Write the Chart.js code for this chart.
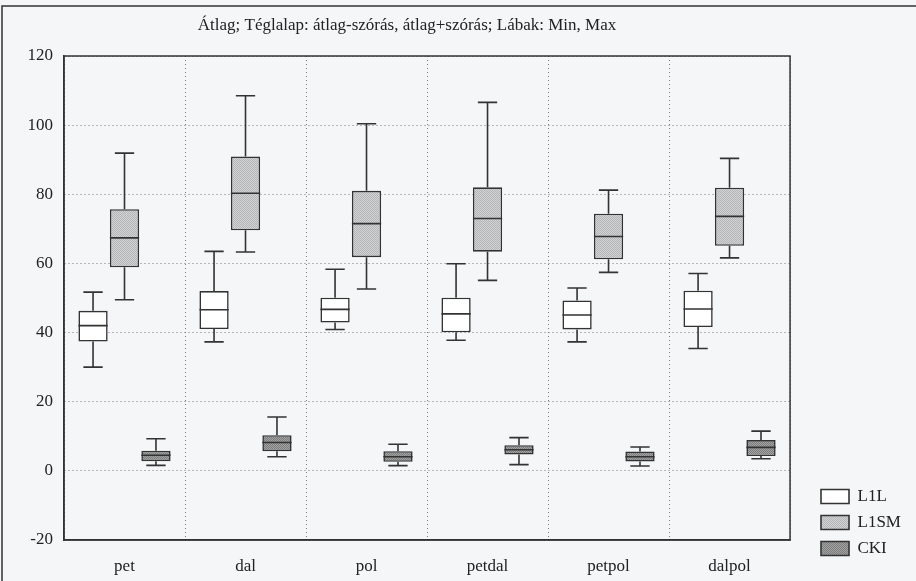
<!DOCTYPE html>
<html>
<head>
<meta charset="utf-8">
<script src="https://cdn.jsdelivr.net/npm/chart.js@4.4.0/dist/chart.umd.min.js"></script>
<style>
  html, body { margin: 0; padding: 0; background: #f4f6f8; }
  #wrap { width: 916px; height: 581px; position: relative; }
</style>
</head>
<body>
<div id="wrap"><canvas id="boxChart"></canvas></div>
<script>
// Átlag; Téglalap: átlag ± szórás; Lábak: Min, Max
const categories = ['pet', 'dal', 'pol', 'petdal', 'petpol', 'dalpol'];
const seriesNames = ['L1L', 'L1SM', 'CKI'];
const yTicks = [-20, 0, 20, 40, 60, 80, 100, 120];

// L1L
const l1lMax  = [51.7, 63.5, 58.3, 59.9, 52.9, 57.1];
const l1lHigh = [46.3, 52.0, 50.1, 50.1, 49.3, 52.1];
const l1lMean = [42.0, 46.6, 46.7, 45.4, 45.1, 46.8];
const l1lLow  = [37.4, 41.0, 42.9, 40.1, 40.9, 41.6];
const l1lMin  = [30.0, 37.3, 40.9, 37.8, 37.3, 35.4];

// L1SM
const l1smMax  = [91.9, 108.5, 100.4, 106.6, 81.2, 90.4];
const l1smHigh = [75.7, 90.9, 81.0, 82.0, 74.4, 81.9];
const l1smMean = [67.4, 80.3, 71.5, 73.0, 67.8, 73.6];
const l1smLow  = [58.9, 69.6, 61.8, 63.4, 61.2, 65.1];
const l1smMin  = [49.5, 63.3, 52.6, 55.1, 57.4, 61.6];

// CKI
const ckiMax  = [9.3, 15.6, 7.7, 9.6, 6.9, 11.5];
const ckiHigh = [5.8, 10.3, 5.7, 7.4, 5.6, 8.9];
const ckiMean = [4.5, 8.2, 4.1, 6.1, 4.1, 6.8];
const ckiLow  = [2.8, 5.7, 2.6, 4.7, 2.7, 4.3];
const ckiMin  = [1.6, 4.1, 1.5, 1.8, 1.4, 3.5];

const titleText = 'Átlag; Téglalap: átlag-szórás, átlag+szórás; Lábak: Min, Max';
const serif = "'Liberation Serif', 'DejaVu Serif', serif";
const ink = '#333333';

// fine checker texture like the printed screen tints
function makePattern(base, dot) {
    const c = document.createElement('canvas');
    c.width = 2; c.height = 2;
    const g = c.getContext('2d');
    g.fillStyle = base;
    g.fillRect(0, 0, 2, 2);
    g.fillStyle = dot;
    g.fillRect(0, 0, 1, 1);
    g.fillRect(1, 1, 1, 1);
    return g.createPattern(c, 'repeat');
}

const stats = [
    { max: l1lMax, high: l1lHigh, mean: l1lMean, low: l1lLow, min: l1lMin, fill: '#ffffff' },
    { max: l1smMax, high: l1smHigh, mean: l1smMean, low: l1smLow, min: l1smMin, fill: makePattern('#d2d3d5', '#b4b5b7') },
    { max: ckiMax, high: ckiHigh, mean: ckiMean, low: ckiLow, min: ckiMin, fill: makePattern('#a3a3a3', '#7c7c7c') }
];

const datasets = stats.map((s, d) => ({
    label: seriesNames[d],
    data: s.low.map((lo, i) => [lo, s.high[i]]),
    backgroundColor: s.fill,
    borderColor: ink,
    borderWidth: 1.6,
    borderSkipped: false,
    categoryPercentage: 0.78,
    barPercentage: 0.93
}));

// whiskers, caps and mean lines, placed through the chart's own scales
const boxPlotPlugin = {
    id: 'boxPlot',
    afterDatasetsDraw(chart) {
        const ctx = chart.ctx;
        const y = chart.scales.y;
        ctx.save();
        ctx.strokeStyle = ink;
        ctx.lineWidth = 1.6;
        stats.forEach((s, d) => {
            const meta = chart.getDatasetMeta(d);
            meta.data.forEach((bar, i) => {
                const x = bar.x;
                const half = bar.width / 2;
                const cap = bar.width * 0.33;
                const yMax = y.getPixelForValue(s.max[i]);
                const yMin = y.getPixelForValue(s.min[i]);
                const yHi = y.getPixelForValue(s.high[i]);
                const yLo = y.getPixelForValue(s.low[i]);
                const yMean = y.getPixelForValue(s.mean[i]);
                ctx.beginPath();
                ctx.moveTo(x, yHi); ctx.lineTo(x, yMax);
                ctx.moveTo(x - cap, yMax); ctx.lineTo(x + cap, yMax);
                ctx.moveTo(x, yLo); ctx.lineTo(x, yMin);
                ctx.moveTo(x - cap, yMin); ctx.lineTo(x + cap, yMin);
                ctx.moveTo(x - half, yMean); ctx.lineTo(x + half, yMean);
                ctx.stroke();
            });
        });
        ctx.restore();
    },
    beforeDraw(chart) {
        // push the legend into the lower right corner, as on the print
        const lg = chart.legend;
        if (lg) {
            const w = lg.right - lg.left;
            lg.left = 812;
            lg.right = lg.left + w;
            lg.bottom = 566;
        }
    },
    afterDraw(chart) {
        const ctx = chart.ctx;
        const a = chart.chartArea;
        ctx.save();
        ctx.strokeStyle = ink;
        ctx.lineWidth = 1.5;
        ctx.strokeRect(a.left, a.top, a.right - a.left, a.bottom - a.top);
        // outer frame of the figure
        ctx.beginPath();
        ctx.moveTo(2, 581); ctx.lineTo(2, 6); ctx.lineTo(916, 6);
        ctx.stroke();
        ctx.fillStyle = '#222';
        ctx.font = '17px ' + serif;
        ctx.textAlign = 'center';
        ctx.textBaseline = 'middle';
        ctx.fillText(titleText, 407, 26);
        ctx.restore();
    }
};

new Chart(document.getElementById('boxChart'), {
    type: 'bar',
    data: { labels: categories, datasets: datasets },
    plugins: [boxPlotPlugin],
    options: {
        responsive: true,
        maintainAspectRatio: false,
        animation: false,
        layout: { padding: { top: 56, left: 6, right: 27, bottom: 0 } },
        plugins: {
            title: { display: false },
            tooltip: { enabled: false },
            legend: {
                position: 'right',
                align: 'end',
                labels: {
                    boxWidth: 28,
                    boxHeight: 14,
                    padding: 9,
                    color: '#222',
                    font: { family: serif, size: 17 }
                }
            }
        },
        scales: {
            x: {
                grid: { color: '#777', lineWidth: 1, drawTicks: false },
                border: { color: ink, width: 1.5, dash: [1, 3] },
                ticks: { color: '#222', padding: 16, font: { family: serif, size: 17 } },
                afterFit(scale) { scale.height = 41; }
            },
            y: {
                min: -20,
                max: 120,
                afterBuildTicks(scale) { scale.ticks = yTicks.map(v => ({ value: v })); },
                grid: { color: '#777', lineWidth: 1, drawTicks: false },
                border: { color: ink, width: 1.5, dash: [1, 3] },
                ticks: { color: '#222', padding: 11, font: { family: serif, size: 17 } },
                afterFit(scale) { scale.width = 58; }
            }
        }
    }
});
</script>
</body>
</html>
